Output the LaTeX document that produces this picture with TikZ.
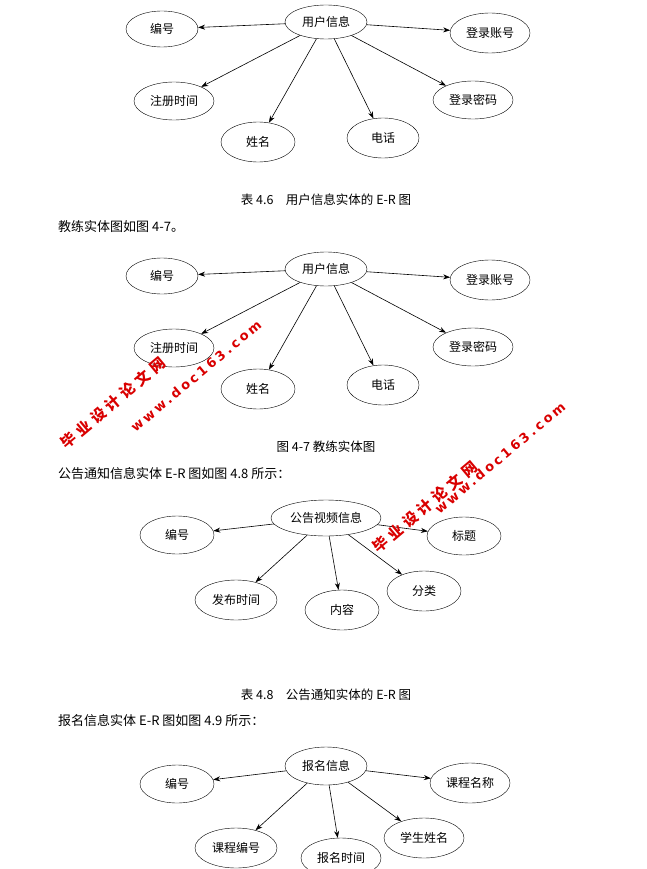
\documentclass[tikz,border=0pt]{standalone}
\usepackage{fontspec}
\setmainfont{Liberation Serif}
\newfontfamily\cjk{Noto Sans CJK SC}
\newfontfamily\wmfont[LetterSpace=22]{DejaVu Sans}
\newfontfamily\wmcjk[LetterSpace=30]{Noto Sans CJK SC}
\usetikzlibrary{arrows.meta,shapes.geometric}
\begin{document}
\begin{tikzpicture}[x=1pt,y=-1pt,
  ent/.style={draw,ellipse,minimum width=80pt,minimum height=38pt,inner sep=0pt,font=\cjk\fontsize{12}{12}\selectfont,fill=white},
  arr/.style={-{Stealth[length=7pt,width=5pt]},line width=0.6pt},
  txt/.style={font=\cjk\fontsize{13}{13}\selectfont,anchor=west,inner sep=0pt},
  captext/.style={font=\cjk\fontsize{12.5}{12.5}\selectfont,inner sep=0pt},
  wm/.style={font=\wmcjk\bfseries\fontsize{15}{15}\selectfont,text=red!85!black,inner sep=0pt,rotate=40},
  wmw/.style={font=\wmfont\bfseries\fontsize{13}{13}\selectfont,text=red!85!black,inner sep=0pt,rotate=40}]
\useasboundingbox (0,0) rectangle (647,869);
% diagram 1 and 2
\foreach \d/\o in {a/0,b/247}{
\node[ent,minimum width=82pt,minimum height=34pt] (\d c) at (326,22+\o) {用户信息};
\node[ent,minimum width=72pt,minimum height=36pt] (\d 1) at (162,29+\o) {编号};
\node[ent,minimum width=80pt,minimum height=40pt] (\d 2) at (490,33+\o) {登录账号};
\node[ent,minimum width=80pt,minimum height=38pt] (\d 3) at (174,101+\o) {注册时间};
\node[ent,minimum width=80pt,minimum height=38pt] (\d 4) at (473,100+\o) {登录密码};
\node[ent,minimum width=74pt,minimum height=40pt] (\d 5) at (258,142+\o) {姓名};
\node[ent,minimum width=72pt,minimum height=40pt] (\d 6) at (383,138+\o) {电话};
\foreach \i in {1,...,6}{\draw[arr] (\d c) -- (\d\i);}
}
\node[captext] (cap1) at (326,200) {表 4.6\quad 用户信息实体的 E-R 图};
\node[txt] (t1) at (58,227) {教练实体图如图 4-7。};
\node[captext] (cap2) at (326,447) {图 4-7 教练实体图};
\node[txt] (t2) at (58,474) {公告通知信息实体 E-R 图如图 4.8 所示：};
% diagram 3
\node[ent,minimum width=110pt,minimum height=36pt] (cc) at (326,518) {公告视频信息};
\node[ent,minimum width=74pt,minimum height=38pt] (c1) at (177,535) {编号};
\node[ent,minimum width=74pt,minimum height=38pt] (c2) at (464,536) {标题};
\node[ent,minimum width=82pt,minimum height=40pt] (c3) at (236,600) {发布时间};
\node[ent,minimum width=74pt,minimum height=40pt] (c4) at (342,610) {内容};
\node[ent,minimum width=74pt,minimum height=40pt] (c5) at (424,591) {分类};
\foreach \i in {1,...,5}{\draw[arr] (cc) -- (c\i);}
\node[captext] (cap3) at (326,695) {表 4.8\quad 公告通知实体的 E-R 图};
\node[txt] (t3) at (58,721) {报名信息实体 E-R 图如图 4.9 所示：};
% diagram 4
\node[ent,minimum width=82pt,minimum height=38pt] (dc) at (326,766) {报名信息};
\node[ent,minimum width=74pt,minimum height=38pt] (d1) at (177,784) {编号};
\node[ent,minimum width=80pt,minimum height=40pt] (d2) at (470,783) {课程名称};
\node[ent,minimum width=82pt,minimum height=40pt] (d3) at (236,848) {课程编号};
\node[ent,minimum width=80pt,minimum height=40pt] (d4) at (341,858) {报名时间};
\node[ent,minimum width=80pt,minimum height=40pt] (d5) at (424,838) {学生姓名};
\foreach \i in {1,...,5}{\draw[arr] (dc) -- (d\i);}
% watermarks
\node[wm] (w1) at (113,403) {毕业设计论文网};
\node[wmw] (w2) at (196,376) {www.doc163.com};
\node[wm] (w3) at (425,507) {毕业设计论文网};
\node[wmw] (w4) at (500,458) {www.doc163.com};
\end{tikzpicture}
\end{document}
